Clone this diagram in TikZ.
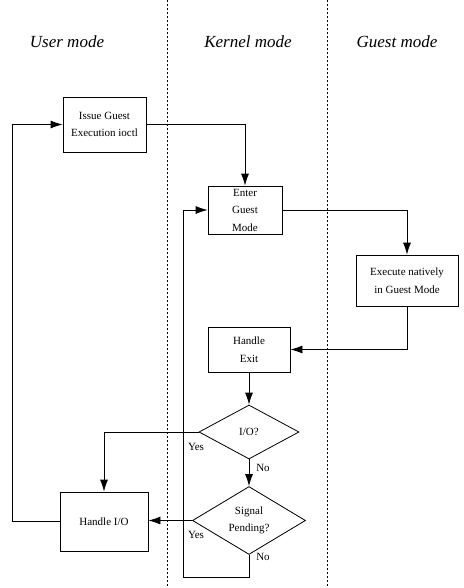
\documentclass[tikz,border=0pt]{standalone}
\usepackage{fontspec}
\setmainfont{Liberation Serif}
\usetikzlibrary{arrows.meta,shapes.geometric,positioning}

\begin{document}
\begin{tikzpicture}[x=1pt,y=-1pt,>={Latex[length=12pt,width=8pt]},line width=0.8pt,
    mode/.style={font=\fontsize{17}{19}\selectfont\itshape},
    block/.style={draw,align=center,font=\fontsize{11}{17.5}\selectfont,inner sep=1pt},
    decision/.style={draw,diamond,align=center,font=\fontsize{11}{17}\selectfont,inner sep=0pt},
    answer/.style={font=\fontsize{11}{13}\selectfont},
    lane/.style={dash pattern=on 2pt off 2pt,line width=0.6pt}]
    \useasboundingbox (0,0) rectangle (463,588);

    % lanes
    \draw[lane] (167,0) -- (167,588);
    \draw[lane] (327,0) -- (327,588);
    \node[mode] (user) at (67,42) {User mode};
    \node[mode] (kernel) at (248,42) {Kernel mode};
    \node[mode] (guest) at (397,42) {Guest mode};

    % steps
    \node[block,minimum width=83pt,minimum height=55pt] (issue) at (104.5,124.5) {Issue Guest\\Execution ioctl};
    \node[block,minimum width=74pt,minimum height=48pt] (enter) at (245,210) {Enter\\Guest\\Mode};
    \node[block,minimum width=102pt,minimum height=51pt] (execute) at (407,280.5) {Execute natively\\in Guest Mode};
    \node[block,minimum width=82pt,minimum height=45pt] (exit) at (249,349.5) {Handle\\Exit};
    \node[decision,minimum width=100pt,minimum height=54pt] (io) at (249,432) {I/O?};
    \node[decision,minimum width=113pt,minimum height=57pt] (signal) at (249,520.5) {Signal\\Pending?};
    \node[block,minimum width=88pt,minimum height=59pt] (handleio) at (104,521.5) {Handle I/O};

    \coordinate (loop) at (183,577);
    \coordinate (back) at (12,521.5);

    \draw[->] (issue.east) -| (enter.north);
    \draw[->] (enter.east) -| (execute.north);
    \draw[->] (execute.south) |- (exit.east);
    \draw[->] (exit) -- (io);
    \draw[->] (io.west) -| (handleio.north);
    \draw[->] (io) -- (signal);
    \draw[->] (signal.west) -- (signal.west -| handleio.east);
    \draw[->] (signal.south) |- (loop) |- (enter.west);
    \draw[->] (handleio.west) -- (back) |- (issue.west);

    % answers
    \node[answer] (ioyes) at (196,447) {Yes};
    \node[answer] (iono) at (263,468) {No};
    \node[answer] (sigyes) at (196,535) {Yes};
    \node[answer] (signo) at (263,557) {No};
\end{tikzpicture}
\end{document}
